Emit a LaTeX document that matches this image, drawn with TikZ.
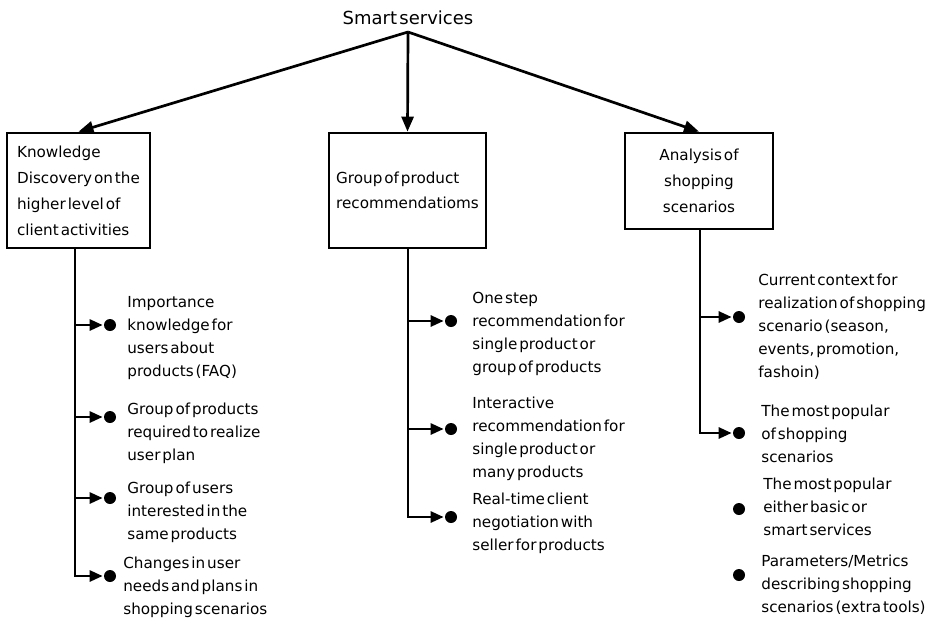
\documentclass[tikz,border=0pt]{standalone}
\usepackage{fontspec}
\setmainfont[WordSpace=0.4]{DejaVu Sans}
\usetikzlibrary{arrows.meta}

\begin{document}
\begin{tikzpicture}[x=1pt, y=-1pt, line width=2.7pt,
  arr/.style={-{Triangle[length=15pt,width=12pt]}},
  sub/.style={-{Triangle[length=13pt,width=11pt]}},
  box/.style={draw, rectangle, inner sep=0pt, font=\fontsize{15.2}{26}\selectfont},
  dot/.style={circle, fill, inner sep=0pt, minimum size=12pt},
  item/.style={anchor=base west, inner sep=0pt, align=left, font=\fontsize{15.2}{23}\selectfont}]
\useasboundingbox (0,0) rectangle (928,619);

\node[anchor=base, inner sep=0pt, font=\fontsize{18}{21}\selectfont] (title) at (408,24) {Smart services};
\coordinate (root) at (408,32);

\node[box, minimum width=143pt, minimum height=115pt, align=left] (know) at (78.5,190.5) {Knowledge\\Discovery on the\\higher level of\\client activities};
\node[box, minimum width=157pt, minimum height=115pt, align=left, font=\fontsize{15.2}{25}\selectfont] (group) at (407.5,190.5) {Group of product\\recommendatioms};
\node[box, minimum width=148pt, minimum height=96pt, align=center] (scen) at (699,181) {Analysis of\\shopping\\scenarios};

\draw[arr] (root) -- (know.north);
\draw[arr] (root) -- (group.north);
\draw[arr] (root) -- (scen.north);

\coordinate (t1) at (75,0);
\coordinate (t2) at (408,0);
\coordinate (t3) at (700,0);

% left column
\node[dot] (d11) at (110,325) {};
\node[dot] (d12) at (110,417) {};
\node[dot] (d13) at (110,498) {};
\node[dot] (d14) at (110,576) {};
\node[item] (i11) at (126,376) {Importance\\knowledge for\\users about\\products (FAQ)};
\node[item] (i12) at (126,460) {Group of products\\required to realize\\user plan};
\node[item] (i13) at (126,539) {Group of users\\interested in the\\same products};
\node[item] (i14) at (122,614) {Changes in user\\needs and plans in\\shopping scenarios};
\draw[sub] (know.south -| t1) |- (d14);
\draw[sub] (d11 -| t1) -- (d11);
\draw[sub] (d12 -| t1) -- (d12);
\draw[sub] (d13 -| t1) -- (d13);

% middle column
\node[dot] (d21) at (451,321) {};
\node[dot] (d22) at (451,429) {};
\node[dot] (d23) at (451,517) {};
\node[item] (i21) at (471,372) {One step\\recommendation for\\single product or\\group of products};
\node[item] (i22) at (471,477) {Interactive\\recommendation for\\single product or\\many products};
\node[item] (i23) at (471,550) {Real-time client\\negotiation with\\seller for products};
\draw[sub] (group.south -| t2) |- (d23);
\draw[sub] (d21 -| t2) -- (d21);
\draw[sub] (d22 -| t2) -- (d22);

% right column
\node[dot] (d31) at (739,317) {};
\node[dot] (d32) at (739,433) {};
\node[dot] (d33) at (739,509) {};
\node[dot] (d34) at (739,575) {};
\node[item] (i31) at (757,377) {Current context for\\realization of shopping\\scenario (season,\\events, promotion,\\fashoin)};
\node[item] (i32) at (760,462) {The most popular\\of shopping\\scenarios};
\node[item] (i33) at (762,535) {The most popular\\either basic or\\smart services};
\node[item] (i34) at (760,612) {Parameters/Metrics\\describing shopping\\scenarios (extra tools)};
\draw[sub] (scen.south -| t3) |- (d32);
\draw[sub] (d31 -| t3) -- (d31);
\end{tikzpicture}
\end{document}
